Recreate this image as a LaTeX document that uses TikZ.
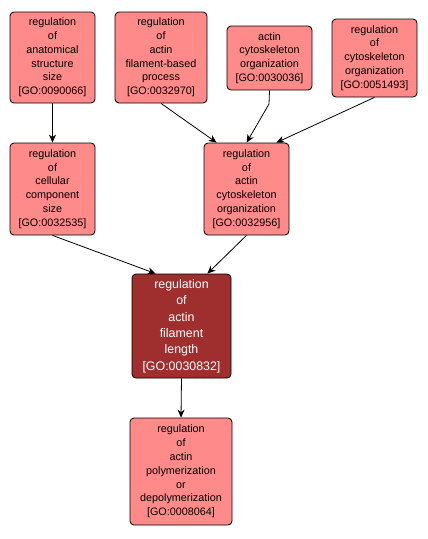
\documentclass[tikz,border=0pt]{standalone}
\usepackage{fontspec}
\setmainfont{Liberation Sans}
\usetikzlibrary{arrows.meta}
\definecolor{lightbox}{RGB}{255,138,138}
\definecolor{darkbox}{RGB}{159,46,46}
\begin{document}
\begin{tikzpicture}[x=1pt,y=-1pt,
  gobox/.style={draw=black, line width=0.8pt, rounded corners=4pt, fill=lightbox,
    inner sep=0pt, align=center, font=\fontsize{10.8}{13.8}\selectfont},
  mainbox/.style={gobox, fill=darkbox, text=white, font=\fontsize{12.4}{16.4}\selectfont},
  edge/.style={draw=black, line width=0.8pt, -{Stealth[length=8pt,width=7pt,inset=2.5pt]}}]
\useasboundingbox (0,0) rectangle (428,539);
\fill[white] (0,0) rectangle (428,539);
\node[gobox, minimum width=85pt, minimum height=91pt] (A) at (52.5,57.5)
  {regulation\\of\\anatomical\\structure\\size\\{[}GO:0090066{]}};
\node[gobox, minimum width=92pt, minimum height=91pt] (B) at (161,57.5)
  {regulation\\of\\actin\\filament-based\\process\\{[}GO:0032970{]}};
\node[gobox, minimum width=85pt, minimum height=64pt] (C) at (269.5,58)
  {actin\\cytoskeleton\\organization\\{[}GO:0030036{]}};
\node[gobox, minimum width=85pt, minimum height=78pt] (D) at (374.5,58)
  {regulation\\of\\cytoskeleton\\organization\\{[}GO:0051493{]}};
\node[gobox, minimum width=85pt, minimum height=92pt] (E) at (52.5,189)
  {regulation\\of\\cellular\\component\\size\\{[}GO:0032535{]}};
\node[gobox, minimum width=85pt, minimum height=92pt] (F) at (246.5,189)
  {regulation\\of\\actin\\cytoskeleton\\organization\\{[}GO:0032956{]}};
\node[mainbox, minimum width=99pt, minimum height=104pt] (G) at (181.5,326)
  {regulation\\of\\actin\\filament\\length\\{[}GO:0030832{]}};
\node[gobox, minimum width=102pt, minimum height=107pt] (H) at (181,471.5)
  {regulation\\of\\actin\\polymerization\\or\\depolymerization\\{[}GO:0008064{]}};
\coordinate (Cbend) at (269,104);
\draw[edge] (A.south) -- (E.north);
\draw[edge] (B.south) -- ([xshift=13pt]F.north west);
\draw[edge] (C.south) -- (Cbend) -- ([xshift=43pt]F.north west);
\draw[edge] (D.south) -- ([xshift=-13pt]F.north east);
\draw[edge] (E.south) -- ([xshift=24pt]G.north west);
\draw[edge] (F.south) -- ([xshift=-24pt]G.north east);
\draw[edge] (G.south) -- (H.north);
\end{tikzpicture}
\end{document}
